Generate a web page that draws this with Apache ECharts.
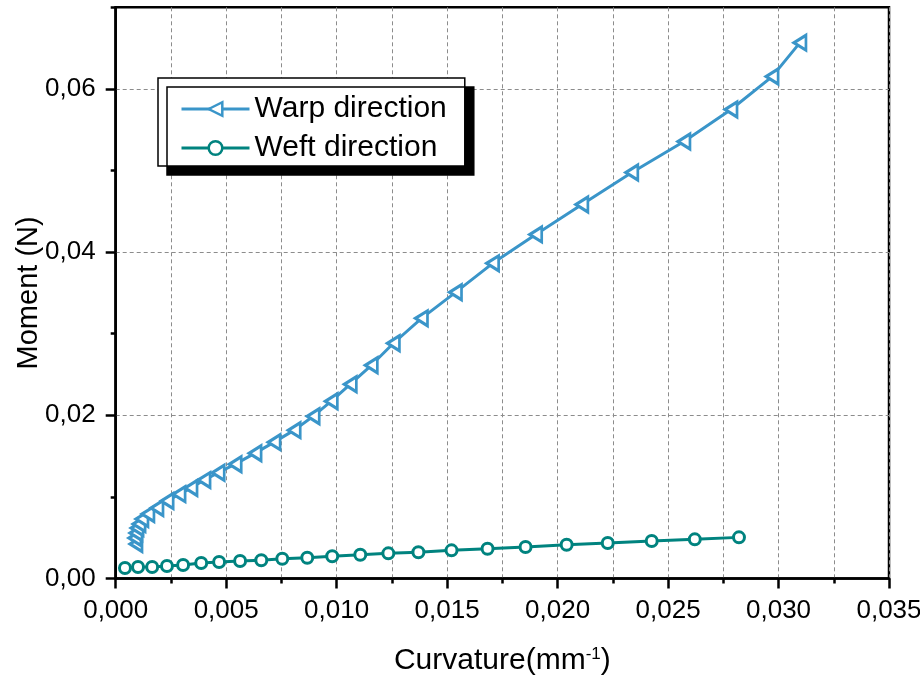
<!DOCTYPE html>
<html>
<head>
<meta charset="utf-8">
<script src="https://cdn.jsdelivr.net/npm/echarts@6/dist/echarts.min.js"></script>
<style>html,body{margin:0;padding:0;background:#fff}#c{width:920px;height:676px}</style>
</head>
<body>
<div id="c"></div>
<script>
// Warp direction (curvature mm^-1, moment N)
const warpX = [0.00092,0.00087,0.00092,0.00097,0.00106,0.00119,0.00146,0.00187,0.00233,0.00287,0.00341,0.00400,0.00464,0.00541,0.00631,0.00717,0.00808,0.00894,0.00976,0.01062,0.01157,0.01257,0.01384,0.01538,0.01706,0.01901,0.02110,0.02336,0.02572,0.02785,0.02971,0.03097];
const warpY = [0.00422,0.00496,0.00557,0.00618,0.00667,0.00728,0.00789,0.00863,0.00949,0.01034,0.01108,0.01206,0.01297,0.01401,0.01536,0.01671,0.01818,0.01989,0.02173,0.02381,0.02613,0.02883,0.03188,0.03507,0.03862,0.04217,0.04584,0.04976,0.05355,0.05747,0.06151,0.06567];
// Weft direction
const weftX = [0.00042,0.00101,0.00165,0.00232,0.00305,0.00387,0.00468,0.00563,0.00659,0.00754,0.00867,0.00980,0.01107,0.01234,0.01370,0.01520,0.01683,0.01855,0.02041,0.02227,0.02426,0.02621,0.02821];
const weftY = [0.00129,0.00141,0.00141,0.00153,0.00165,0.00190,0.00202,0.00214,0.00223,0.00242,0.00255,0.00272,0.00291,0.00308,0.00321,0.00345,0.00365,0.00386,0.00414,0.00435,0.00459,0.00480,0.00504];
// Axis tick labels
const xTickValues = [0,0.005,0.010,0.015,0.020,0.025,0.030,0.035];
const yTickValues = [0,0.02,0.04,0.06];
const seriesNames = ['Warp direction','Weft direction'];

const pair = (xs, ys) => xs.map((x, i) => [x, ys[i]]);
const FONT = 'Liberation Sans, Arial, sans-serif';
const dash = { color: '#8c8c8c', width: 1, type: [4, 3] };

const chart = echarts.init(document.getElementById('c'));
chart.setOption({
  animation: false,
  textStyle: { fontFamily: FONT },
  grid: { left: 115.7, right: 31, top: 7.3, bottom: 97.5, containLabel: false, outerBoundsMode: 'none',
    show: true, borderColor: '#000', borderWidth: 2.5, backgroundColor: 'transparent' },
  legend: {
    left: 158, top: 78, orient: 'vertical',
    data: seriesNames,
    itemWidth: 68, itemHeight: 17, itemGap: 9,
    padding: [16, 18, 3, 22],
    backgroundColor: '#fff', borderColor: '#000', borderWidth: 1.5,
    shadowColor: '#000', shadowBlur: 0, shadowOffsetX: 9, shadowOffsetY: 9,
    lineStyle: { width: 3 },
    itemStyle: { borderWidth: 2.5 },
    textStyle: { fontSize: 30, color: '#000', fontFamily: FONT }
  },
  xAxis: {
    type: 'value', min: 0, max: 0.035, interval: 0.005,
    name: 'Curvature(mm{sup|-1})', nameLocation: 'middle', nameGap: 67,
    nameTextStyle: { fontSize: 30, color: '#000', fontFamily: FONT,
      rich: { sup: { fontSize: 17, verticalAlign: 'top', color: '#000', fontFamily: FONT } } },
    axisLine: { lineStyle: { color: '#000', width: 2.5 } },
    axisTick: { length: 10, lineStyle: { color: '#000', width: 2.5 } },
    minorTick: { show: true, splitNumber: 2, length: 5, lineStyle: { color: '#000', width: 2.5 } },
    axisLabel: { fontSize: 26, color: '#000', margin: 19, fontFamily: FONT,
      customValues: xTickValues,
      formatter: v => v.toFixed(3).replace('.', ',') },
    splitLine: { show: true, lineStyle: dash },
    minorSplitLine: { show: true, lineStyle: dash }
  },
  yAxis: [{
    type: 'value', min: 0, max: 0.07, interval: 0.01,
    name: 'Moment (N)', nameLocation: 'middle', nameGap: 72, nameMoveOverlap: false,
    nameTextStyle: { fontSize: 29, color: '#000', fontFamily: FONT },
    axisLine: { show: true, lineStyle: { color: '#000', width: 2.5 } },
    axisTick: { show: true, length: 10, customValues: yTickValues, lineStyle: { color: '#000', width: 2.5 } },
    axisLabel: { fontSize: 26, color: '#000', margin: 20, fontFamily: FONT,
      customValues: yTickValues,
      formatter: v => v.toFixed(2).replace('.', ',') },
    splitLine: { show: true, lineStyle: dash }
  }, {
    type: 'value', min: 0, max: 0.07, interval: 0.01, position: 'left', offset: 0,
    axisLine: { show: false },
    axisTick: { show: true, length: 5, lineStyle: { color: '#000', width: 2.5 } },
    axisLabel: { show: false },
    splitLine: { show: false }
  }],
  series: [{
    name: seriesNames[0], type: 'line', data: pair(warpX, warpY), yAxisIndex: 0,
    symbol: 'triangle', symbolSize: [15, 12], symbolRotate: 90, showAllSymbol: true,
    lineStyle: { color: '#3a95c9', width: 3 },
    itemStyle: { color: '#fff', borderColor: '#3a95c9', borderWidth: 3 },
    z: 3
  }, {
    name: seriesNames[1], type: 'line', data: pair(weftX, weftY), yAxisIndex: 0,
    symbol: 'circle', symbolSize: 11, showAllSymbol: true,
    lineStyle: { color: '#00837f', width: 3 },
    itemStyle: { color: '#fff', borderColor: '#00837f', borderWidth: 3 },
    z: 2
  }]
});
</script>
</body>
</html>
